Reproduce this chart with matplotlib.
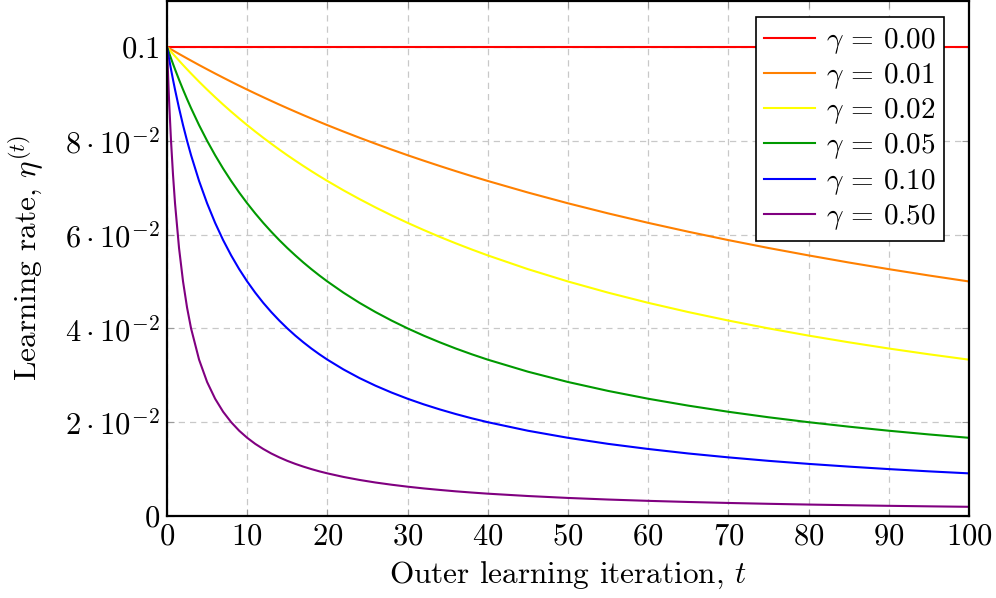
import matplotlib
matplotlib.use("Agg")
import matplotlib.pyplot as plt

plt.rcParams['font.family'] = 'serif'
plt.rcParams['font.serif'] = ['cmr10']
plt.rcParams['mathtext.fontset'] = 'cm'
plt.rcParams['axes.unicode_minus'] = False

# sample iterations
t = [0, 0.25, 0.5, 0.75, 1, 1.5, 2, 2.5, 3, 4, 5, 6, 7, 8, 9, 10, 11, 12, 13, 14, 15, 16, 17, 18, 19, 20,
     22, 24, 26, 28, 30, 32, 34, 36, 38, 40, 45, 50, 55, 60, 65, 70, 75, 80, 85, 90, 95, 100]

eta_000 = [0.1] * 48
eta_001 = [0.1, 0.09975, 0.09950, 0.09926, 0.09901, 0.09852, 0.09804, 0.09756, 0.09709, 0.09615, 0.09524,
           0.09434, 0.09346, 0.09259, 0.09174, 0.09091, 0.09009, 0.08929, 0.08850, 0.08772, 0.08696, 0.08621,
           0.08547, 0.08475, 0.08403, 0.08333, 0.08197, 0.08065, 0.07937, 0.07813, 0.07692, 0.07576, 0.07463,
           0.07353, 0.07246, 0.07143, 0.06897, 0.06667, 0.06452, 0.06250, 0.06061, 0.05882, 0.05714, 0.05556,
           0.05405, 0.05263, 0.05128, 0.05000]
eta_002 = [0.1, 0.09950, 0.09901, 0.09852, 0.09804, 0.09709, 0.09615, 0.09524, 0.09434, 0.09259, 0.09091,
           0.08929, 0.08772, 0.08621, 0.08475, 0.08333, 0.08197, 0.08065, 0.07937, 0.07813, 0.07692, 0.07576,
           0.07463, 0.07353, 0.07246, 0.07143, 0.06944, 0.06757, 0.06579, 0.06410, 0.06250, 0.06098, 0.05952,
           0.05814, 0.05682, 0.05556, 0.05263, 0.05000, 0.04762, 0.04545, 0.04348, 0.04167, 0.04000, 0.03846,
           0.03704, 0.03571, 0.03448, 0.03333]
eta_005 = [0.1, 0.09877, 0.09756, 0.09639, 0.09524, 0.09302, 0.09091, 0.08889, 0.08696, 0.08333, 0.08000,
           0.07692, 0.07407, 0.07143, 0.06897, 0.06667, 0.06452, 0.06250, 0.06061, 0.05882, 0.05714, 0.05556,
           0.05405, 0.05263, 0.05128, 0.05000, 0.04762, 0.04545, 0.04348, 0.04167, 0.04000, 0.03846, 0.03704,
           0.03571, 0.03448, 0.03333, 0.03077, 0.02857, 0.02667, 0.02500, 0.02353, 0.02222, 0.02105, 0.02000,
           0.01905, 0.01818, 0.01739, 0.01667]
eta_010 = [0.1, 0.09756, 0.09524, 0.09302, 0.09091, 0.08696, 0.08333, 0.08000, 0.07692, 0.07143, 0.06667,
           0.06250, 0.05882, 0.05556, 0.05263, 0.05000, 0.04762, 0.04545, 0.04348, 0.04167, 0.04000, 0.03846,
           0.03704, 0.03571, 0.03448, 0.03333, 0.03125, 0.02941, 0.02778, 0.02632, 0.02500, 0.02381, 0.02273,
           0.02174, 0.02083, 0.02000, 0.01818, 0.01667, 0.01538, 0.01429, 0.01333, 0.01250, 0.01176, 0.01111,
           0.01053, 0.01000, 0.00952, 0.00909]
eta_050 = [0.1, 0.08889, 0.08000, 0.07273, 0.06667, 0.05714, 0.05000, 0.04444, 0.04000, 0.03333, 0.02857,
           0.02500, 0.02222, 0.02000, 0.01818, 0.01667, 0.01538, 0.01429, 0.01333, 0.01250, 0.01176, 0.01111,
           0.01053, 0.01000, 0.00952, 0.00909, 0.00833, 0.00769, 0.00714, 0.00667, 0.00625, 0.00588, 0.00556,
           0.00526, 0.00500, 0.00476, 0.00426, 0.00385, 0.00351, 0.00323, 0.00299, 0.00278, 0.00260, 0.00244,
           0.00230, 0.00217, 0.00206, 0.00196]

series = [eta_000, eta_001, eta_002, eta_005, eta_010, eta_050]
labels = [r"$\gamma$ = 0.00", r"$\gamma$ = 0.01", r"$\gamma$ = 0.02",
          r"$\gamma$ = 0.05", r"$\gamma$ = 0.10", r"$\gamma$ = 0.50"]
colors = ["#ff0000", "#ff8000", "#ffff00", "#009900", "#0000ff", "#800080"]

x_ticks = [0, 10, 20, 30, 40, 50, 60, 70, 80, 90, 100]
y_ticks = [0, 0.02, 0.04, 0.06, 0.08, 0.1]
y_ticklabels = [r"$0$", r"$2\cdot10^{-2}$", r"$4\cdot10^{-2}$", r"$6\cdot10^{-2}$", r"$8\cdot10^{-2}$", r"$0.1$"]

fig = plt.figure(figsize=(9.96, 5.98), dpi=100)
ax = fig.add_axes([167/996, (598-516)/598, (969-167)/996, (516-1)/598])

for y, lab, c in zip(series, labels, colors):
    ax.plot(t, y, color=c, lw=1.5, label=lab, zorder=3)

ax.set_xlim(0, 100)
ax.set_ylim(0, 0.1098)
ax.set_xticks(x_ticks)
ax.set_xticklabels([rf"${v}$" for v in x_ticks])
ax.set_yticks(y_ticks)
ax.set_yticklabels(y_ticklabels)

ax.grid(True, color="#c8c8c8", linestyle=(0, (5, 4)), lw=0.9, zorder=0)
ax.tick_params(direction='in', length=5, width=0.8, color="#9a9a9a", top=True, right=True,
               labelsize=22, pad=5)
for s in ax.spines.values():
    s.set_linewidth(1.6)
    s.set_zorder(5)

ax.set_xlabel(r"Outer learning iteration, $t$", fontsize=22.5, labelpad=7)
ax.set_ylabel(r"Learning rate, $\eta^{(t)}$", fontsize=22.5, labelpad=14)

leg = ax.legend(loc='upper right', bbox_to_anchor=(0.969, 0.969), borderaxespad=0,
                fontsize=21, frameon=True, fancybox=False, framealpha=1, edgecolor='black',
                handlelength=1.75, handletextpad=0.35, labelspacing=0.18, borderpad=0.3)
leg.get_frame().set_linewidth(1.2)

fig.savefig("out.png", dpi=100)
